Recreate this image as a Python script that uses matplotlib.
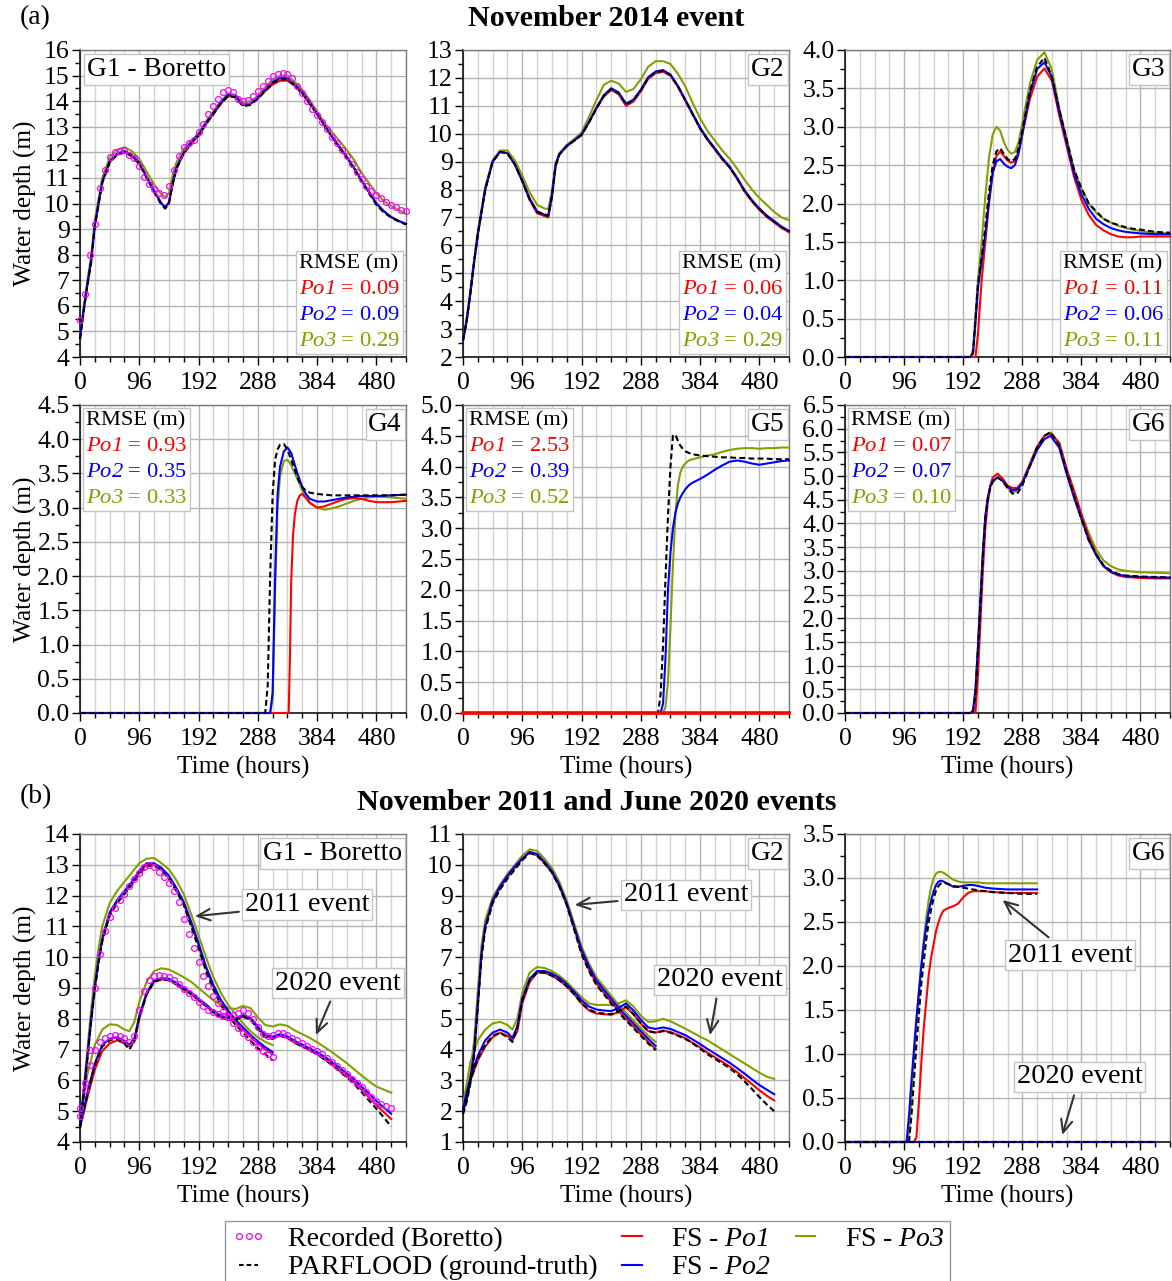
import matplotlib
matplotlib.use("Agg")
import matplotlib.pyplot as plt
from matplotlib.lines import Line2D
from matplotlib.ticker import MultipleLocator, FormatStrFormatter
from matplotlib.offsetbox import TextArea, VPacker, AnchoredOffsetbox

plt.rcParams["font.family"] = ["Liberation Serif", "DejaVu Serif"]
# math mode is only used for the italic run names (Po1, Po2, Po3)
plt.rcParams["mathtext.fontset"] = "custom"
plt.rcParams["mathtext.rm"] = "Liberation Serif:italic"
plt.rcParams["mathtext.it"] = "Liberation Serif:italic"

# ---------------------------------------------------------------- data
# November 2014 event ------------------------------------------------
g1_14_t = [0, 6, 12, 18, 24, 36, 48, 60, 72, 84, 96, 108, 120, 132, 138, 144, 150, 156,
           168, 180, 192, 204, 216, 228, 240, 252, 264, 276, 288, 300, 312, 324, 336, 348,
           360, 372, 384, 396, 408, 420, 432, 444, 456, 468, 480, 492, 504, 516, 528]
g1_14_pf = [4.7, 5.8, 6.8, 7.7, 9.1, 10.8, 11.6, 11.9, 12.0, 11.85, 11.55, 11.0, 10.45, 9.95, 9.8,
            10.0, 10.75, 11.35, 11.95, 12.35, 12.65, 13.1, 13.5, 13.9, 14.2, 14.15, 13.8, 13.85,
            14.1, 14.4, 14.7, 14.85, 14.85, 14.6, 14.3, 13.9, 13.5, 13.05, 12.6, 12.2, 11.8, 11.35,
            10.85, 10.4, 9.95, 9.65, 9.45, 9.3, 9.18]
g1_14_po1 = [4.75, 5.85, 6.85, 7.75, 9.15, 10.82, 11.62, 11.9, 12.0, 11.85, 11.55, 11.02, 10.48, 10.0,
             9.85, 10.0, 10.75, 11.35, 11.95, 12.35, 12.65, 13.1, 13.5, 13.9, 14.2, 14.15, 13.85,
             13.9, 14.1, 14.4, 14.65, 14.8, 14.8, 14.6, 14.3, 13.9, 13.5, 13.05, 12.62, 12.22, 11.82,
             11.38, 10.9, 10.45, 10.0, 9.7, 9.47, 9.32, 9.2]
g1_14_po2 = [4.75, 5.85, 6.85, 7.75, 9.15, 10.85, 11.65, 11.95, 12.05, 11.9, 11.6, 11.05, 10.5, 10.0,
             9.85, 10.05, 10.8, 11.4, 12.0, 12.4, 12.7, 13.15, 13.55, 13.95, 14.25, 14.2, 13.85,
             13.9, 14.15, 14.45, 14.75, 14.9, 14.9, 14.65, 14.35, 13.95, 13.5, 13.05, 12.62, 12.22,
             11.82, 11.38, 10.9, 10.45, 10.0, 9.7, 9.47, 9.32, 9.2]
g1_14_po3 = [4.8, 5.95, 7.0, 7.95, 9.35, 11.0, 11.8, 12.1, 12.2, 12.05, 11.75, 11.25, 10.75, 10.35,
             10.25, 10.4, 11.1, 11.6, 12.15, 12.45, 12.75, 13.2, 13.6, 14.0, 14.3, 14.25, 13.95,
             14.0, 14.2, 14.55, 14.85, 15.0, 15.0, 14.75, 14.45, 14.05, 13.6, 13.15, 12.8, 12.45,
             12.1, 11.7, 11.2, 10.8, 10.4, 10.1, 9.9, 9.75, 9.6]
g1_14_rec_t = list(range(0, 529, 8))
g1_14_rec = [5.45, 6.45, 8.0, 9.2, 10.6, 11.3, 11.8, 12.0, 12.07, 12.1,
             11.9, 11.77, 11.45, 11.05, 10.75, 10.55, 10.42, 10.35, 10.7, 11.3,
             11.85, 12.2, 12.35, 12.5, 12.8, 13.1, 13.5, 13.8, 14.1, 14.35,
             14.45, 14.35, 14.1, 14.0, 14.05, 14.2, 14.4, 14.6, 14.8, 15.0,
             15.05, 15.1, 15.05, 14.9, 14.6, 14.3, 14.0, 13.7, 13.45, 13.2,
             12.9, 12.6, 12.35, 12.1, 11.85, 11.55, 11.25, 10.95, 10.7, 10.5,
             10.35, 10.2, 10.05, 9.95, 9.85, 9.75, 9.72]

g2_14_t = g1_14_t
g2_14_pf = [2.6, 3.3, 4.3, 5.4, 6.4, 8.0, 9.0, 9.35, 9.3, 8.9, 8.3, 7.65, 7.2, 7.1, 7.05, 7.75, 8.85,
            9.25, 9.55, 9.75, 9.95, 10.4, 10.9, 11.35, 11.6, 11.45, 11.05, 11.2, 11.55, 12.0, 12.2,
            12.25, 12.1, 11.7, 11.2, 10.7, 10.2, 9.8, 9.45, 9.1, 8.8, 8.4, 7.95, 7.6, 7.3, 7.05,
            6.85, 6.65, 6.5]
g2_14_po1 = [2.6, 3.3, 4.3, 5.4, 6.4, 8.0, 9.0, 9.35, 9.3, 8.9, 8.3, 7.62, 7.15, 7.05, 7.0, 7.7, 8.85,
             9.25, 9.55, 9.75, 9.95, 10.4, 10.9, 11.33, 11.57, 11.42, 11.0, 11.15, 11.52, 11.97,
             12.17, 12.22, 12.08, 11.68, 11.18, 10.68, 10.18, 9.78, 9.43, 9.08, 8.78, 8.38, 7.93,
             7.57, 7.27, 7.02, 6.82, 6.62, 6.47]
g2_14_po2 = [2.6, 3.3, 4.3, 5.4, 6.4, 8.0, 9.0, 9.35, 9.3, 8.9, 8.32, 7.68, 7.22, 7.1, 7.08, 7.78,
             8.88, 9.27, 9.57, 9.77, 9.97, 10.43, 10.93, 11.38, 11.63, 11.48, 11.08, 11.22, 11.58,
             12.03, 12.23, 12.28, 12.12, 11.72, 11.22, 10.72, 10.22, 9.82, 9.47, 9.12, 8.82, 8.42,
             7.97, 7.62, 7.32, 7.07, 6.87, 6.67, 6.52]
g2_14_po3 = [2.6, 3.4, 4.4, 5.5, 6.5, 8.1, 9.05, 9.4, 9.4, 9.05, 8.5, 7.9, 7.45, 7.32, 7.3, 7.95, 8.95,
             9.3, 9.6, 9.8, 10.05, 10.6, 11.2, 11.75, 11.9, 11.8, 11.5, 11.6, 11.95, 12.4, 12.6,
             12.6, 12.5, 12.15, 11.7, 11.1, 10.55, 10.1, 9.75, 9.4, 9.1, 8.75, 8.35, 8.0, 7.7,
             7.45, 7.2, 7.0, 6.9]

g3_14_t = [0, 96, 192, 204, 208, 212, 216, 222, 228, 234, 240, 246, 252, 258, 264, 270, 276, 282,
           288, 300, 312, 324, 336, 348, 360, 372, 384, 396, 408, 420, 432, 444, 456, 468, 480,
           504, 528]
g3_14_pf = [0, 0, 0, 0, 0.05, 0.5, 0.95, 1.3, 1.7, 2.15, 2.5, 2.68, 2.72, 2.65, 2.58, 2.55, 2.58,
            2.72, 2.95, 3.45, 3.78, 3.9, 3.65, 3.22, 2.83, 2.44, 2.2, 2.0, 1.9, 1.8, 1.75, 1.72,
            1.69, 1.67, 1.66, 1.63, 1.62]
g3_14_po1 = [0, 0, 0, 0, 0, 0, 0.3, 1.0, 1.5, 2.0, 2.4, 2.62, 2.68, 2.62, 2.56, 2.53, 2.55, 2.68,
             2.9, 3.35, 3.65, 3.76, 3.6, 3.15, 2.75, 2.35, 2.05, 1.85, 1.72, 1.65, 1.6, 1.57, 1.56,
             1.56, 1.57, 1.57, 1.57]
g3_14_po2 = [0, 0, 0, 0, 0.05, 0.45, 0.9, 1.25, 1.6, 2.05, 2.4, 2.55, 2.58, 2.52, 2.48, 2.46, 2.5,
             2.65, 2.9, 3.42, 3.75, 3.84, 3.65, 3.2, 2.8, 2.4, 2.12, 1.93, 1.8, 1.73, 1.68, 1.65,
             1.63, 1.62, 1.61, 1.6, 1.6]
g3_14_po3 = [0, 0, 0, 0, 0.1, 0.55, 1.0, 1.5, 2.1, 2.6, 2.9, 3.0, 2.95, 2.8, 2.7, 2.65, 2.67, 2.8,
             3.05, 3.55, 3.87, 3.97, 3.75, 3.25, 2.85, 2.45, 2.2, 2.0, 1.88, 1.8, 1.75, 1.71, 1.68,
             1.66, 1.64, 1.62, 1.61]

g4_14_t = [0, 96, 192, 288, 300, 304, 308, 312, 316, 320, 324, 330, 336, 342, 348, 354, 360, 366,
           372, 384, 396, 408, 420, 432, 444, 456, 468, 480, 504, 528]
g4_14_pf = [0, 0, 0, 0, 0, 0.4, 2.0, 3.2, 3.7, 3.85, 3.92, 3.93, 3.85, 3.7, 3.55, 3.4, 3.3, 3.25,
            3.22, 3.2, 3.19, 3.18, 3.18, 3.18, 3.18, 3.18, 3.18, 3.18, 3.18, 3.19]
g4_14_po2 = [0, 0, 0, 0, 0, 0, 0, 0.3, 2.0, 3.2, 3.6, 3.82, 3.88, 3.8, 3.62, 3.45, 3.3, 3.2, 3.13,
             3.09, 3.09, 3.11, 3.13, 3.15, 3.16, 3.17, 3.17, 3.17, 3.18, 3.19]
g4_14_po3 = [0, 0, 0, 0, 0, 0, 0, 0.2, 1.8, 3.0, 3.45, 3.68, 3.7, 3.62, 3.5, 3.38, 3.25, 3.15, 3.08,
             3.0, 2.97, 2.99, 3.02, 3.06, 3.1, 3.13, 3.15, 3.16, 3.15, 3.13]
g4_14_po1_t = [0, 338, 340, 342, 345, 348, 352, 356, 360, 366, 372, 384, 396, 408, 420, 432, 444,
               456, 468, 480, 492, 504, 516, 528]
g4_14_po1 = [0, 0, 0.8, 1.9, 2.6, 2.9, 3.1, 3.18, 3.2, 3.14, 3.07, 3.0, 3.02, 3.06, 3.1, 3.13, 3.14,
             3.13, 3.1, 3.08, 3.08, 3.08, 3.09, 3.1]

g5_14_t = [0, 96, 192, 288, 316, 320, 324, 328, 332, 336, 340, 344, 348, 352, 356, 360, 366, 372,
           384, 396, 408, 420, 432, 444, 456, 468, 480, 492, 504, 516, 528]
g5_14_pf = [0, 0, 0, 0, 0, 0.3, 1.1, 2.2, 3.2, 4.0, 4.5, 4.52, 4.42, 4.34, 4.29, 4.25, 4.22, 4.2,
            4.18, 4.17, 4.16, 4.15, 4.15, 4.14, 4.14, 4.13, 4.13, 4.13, 4.12, 4.12, 4.12]
g5_14_po2 = [0, 0, 0, 0, 0, 0, 0.15, 0.9, 2.0, 2.6, 3.0, 3.25, 3.4, 3.5, 3.57, 3.63, 3.7, 3.74, 3.8,
             3.87, 3.95, 4.02, 4.08, 4.1, 4.08, 4.05, 4.03, 4.05, 4.07, 4.09, 4.1]
g5_14_po3 = [0, 0, 0, 0, 0, 0, 0, 0.1, 0.5, 1.4, 2.4, 3.2, 3.7, 3.9, 4.0, 4.05, 4.1, 4.12, 4.15,
             4.18, 4.2, 4.24, 4.27, 4.29, 4.3, 4.3, 4.29, 4.3, 4.3, 4.31, 4.31]
g5_14_po1_t = [0, 528]
g5_14_po1 = [0, 0]

g6_14_t = [0, 96, 192, 204, 208, 212, 216, 220, 224, 228, 232, 236, 240, 248, 256, 264, 272, 280,
           288, 300, 312, 324, 334, 348, 360, 372, 384, 396, 408, 420, 432, 444, 456, 480, 504, 528]
g6_14_pf = [0, 0, 0, 0, 0.0, 0.4, 1.3, 2.3, 3.3, 4.1, 4.5, 4.75, 4.88, 4.97, 4.9, 4.75, 4.63, 4.63,
            4.8, 5.2, 5.6, 5.85, 5.93, 5.65, 5.1, 4.6, 4.1, 3.65, 3.35, 3.12, 3.0, 2.93, 2.9,
            2.88, 2.87, 2.86]
g6_14_po1 = [0, 0, 0, 0, 0, 0, 0.8, 1.9, 3.0, 3.9, 4.45, 4.8, 4.97, 5.05, 4.95, 4.8, 4.75, 4.75,
             4.88, 5.25, 5.62, 5.85, 5.9, 5.7, 5.15, 4.7, 4.2, 3.72, 3.35, 3.1, 2.97, 2.9, 2.87,
             2.85, 2.84, 2.84]
g6_14_po2 = [0, 0, 0, 0, 0.05, 0.5, 1.4, 2.4, 3.4, 4.15, 4.55, 4.78, 4.9, 4.97, 4.9, 4.78, 4.7,
             4.72, 4.85, 5.2, 5.55, 5.78, 5.85, 5.6, 5.05, 4.55, 4.1, 3.65, 3.33, 3.1, 2.98, 2.92,
             2.89, 2.87, 2.86, 2.86]
g6_14_po3 = [0, 0, 0, 0, 0.05, 0.5, 1.4, 2.4, 3.4, 4.15, 4.55, 4.78, 4.9, 4.97, 4.9, 4.75, 4.66,
             4.68, 4.85, 5.22, 5.6, 5.85, 5.92, 5.7, 5.15, 4.65, 4.2, 3.8, 3.45, 3.22, 3.1, 3.03,
             3.0, 2.97, 2.96, 2.95]

# RMSE (m) of the FS runs against PARFLOOD, gauges G1..G6 (2014 event)
rmse_po1 = [0.09, 0.06, 0.11, 0.93, 2.53, 0.07]
rmse_po2 = [0.09, 0.04, 0.06, 0.35, 0.39, 0.07]
rmse_po3 = [0.29, 0.29, 0.11, 0.33, 0.52, 0.10]

# November 2011 and June 2020 events ----------------------------------
ev11_t = [0, 6, 12, 18, 24, 30, 36, 48, 60, 72, 84, 96, 108, 120, 132, 144, 156, 168, 180, 192,
          204, 216, 228, 240, 252, 264, 276, 288, 300, 312]
ev20_t = [0, 6, 12, 24, 36, 48, 60, 72, 80, 88, 96, 108, 120, 132, 144, 156, 168, 180, 192, 204,
          216, 228, 240, 252, 264, 276, 288, 300, 312, 324, 336, 348, 360, 372, 384, 396, 408,
          420, 432, 444, 456, 468, 480, 492, 504]

g1_11_pf = [4.5, 5.5, 6.7, 7.9, 8.95, 9.8, 10.5, 11.35, 11.75, 12.05, 12.35, 12.7, 12.95, 12.98,
            12.8, 12.55, 12.15, 11.7, 11.0, 10.3, 9.55, 8.95, 8.45, 8.1, 7.8, 7.55, 7.3, 7.05,
            6.85, 6.65]
g1_11_po1 = [4.55, 5.55, 6.75, 7.95, 9.0, 9.85, 10.55, 11.4, 11.8, 12.1, 12.4, 12.75, 13.0, 13.0,
             12.85, 12.6, 12.2, 11.75, 11.1, 10.4, 9.65, 9.05, 8.55, 8.2, 7.9, 7.65, 7.42, 7.2,
             7.0, 6.85]
g1_11_po2 = [4.55, 5.6, 6.8, 8.0, 9.05, 9.9, 10.6, 11.45, 11.85, 12.15, 12.45, 12.8, 13.05, 13.05,
             12.9, 12.65, 12.25, 11.8, 11.15, 10.45, 9.7, 9.1, 8.62, 8.27, 7.97, 7.72, 7.48, 7.27,
             7.08, 6.92]
g1_11_po3 = [4.6, 5.7, 7.0, 8.3, 9.4, 10.3, 11.0, 11.75, 12.15, 12.45, 12.75, 13.05, 13.2, 13.22,
             13.05, 12.85, 12.5, 12.05, 11.4, 10.7, 10.0, 9.35, 8.85, 8.45, 8.15, 7.85, 7.6, 7.4,
             7.25, 7.15]
g1_11_rec_t = list(range(0, 313, 8))
g1_11_rec = [4.85, 5.7, 7.0, 9.0, 10.1, 10.85, 11.3, 11.6, 11.85, 12.05,
             12.3, 12.55, 12.75, 12.92, 12.98, 12.92, 12.78, 12.6, 12.4, 12.15,
             11.8, 11.25, 10.75, 10.3, 9.85, 9.4, 9.05, 8.75, 8.5, 8.25,
             8.05, 7.85, 7.7, 7.55, 7.4, 7.25, 7.1, 6.95, 6.85, 6.75]

g1_20_pf = [4.45, 5.0, 5.55, 6.5, 7.1, 7.3, 7.35, 7.2, 7.0, 7.3, 8.05, 8.8, 9.2, 9.28, 9.25, 9.12,
            8.95, 8.8, 8.6, 8.42, 8.2, 8.05, 7.97, 7.97, 8.07, 7.98, 7.68, 7.4, 7.35, 7.45, 7.38,
            7.22, 7.1, 6.98, 6.85, 6.68, 6.5, 6.3, 6.1, 5.88, 5.62, 5.35, 5.08, 4.8, 4.5]
g1_20_po1 = [4.5, 4.95, 5.45, 6.35, 6.95, 7.2, 7.3, 7.2, 7.1, 7.25, 8.0, 8.8, 9.2, 9.28, 9.25, 9.12,
             8.95, 8.8, 8.6, 8.42, 8.2, 8.05, 7.97, 7.97, 8.07, 7.98, 7.7, 7.42, 7.37, 7.45, 7.38,
             7.22, 7.1, 6.98, 6.85, 6.7, 6.52, 6.33, 6.14, 5.93, 5.7, 5.45, 5.2, 4.97, 4.75]
g1_20_po2 = [4.5, 5.05, 5.6, 6.55, 7.15, 7.35, 7.4, 7.28, 7.15, 7.35, 8.1, 8.85, 9.25, 9.32, 9.3,
             9.17, 9.0, 8.85, 8.65, 8.47, 8.25, 8.1, 8.02, 8.02, 8.12, 8.03, 7.75, 7.47, 7.42, 7.5,
             7.43, 7.28, 7.16, 7.04, 6.92, 6.77, 6.6, 6.42, 6.23, 6.03, 5.8, 5.57, 5.33, 5.12, 4.92]
g1_20_po3 = [4.65, 5.5, 6.2, 7.15, 7.65, 7.82, 7.8, 7.65, 7.6, 7.9, 8.55, 9.2, 9.55, 9.64, 9.6,
             9.48, 9.35, 9.2, 9.0, 8.8, 8.6, 8.45, 8.35, 8.32, 8.42, 8.35, 8.05, 7.8, 7.75, 7.82,
             7.77, 7.62, 7.5, 7.38, 7.24, 7.08, 6.92, 6.74, 6.56, 6.36, 6.16, 5.97, 5.8, 5.7, 5.6]
g1_20_rec_t = list(range(0, 505, 8))
g1_20_rec = [5.1, 5.9, 6.5, 7.0, 7.25, 7.38, 7.45, 7.48,
             7.45, 7.38, 7.25, 7.45, 8.3, 8.9, 9.25, 9.4,
             9.42, 9.4, 9.35, 9.25, 9.12, 8.98, 8.85, 8.7,
             8.55, 8.42, 8.3, 8.22, 8.15, 8.1, 8.1, 8.12,
             8.18, 8.27, 8.2, 8.0, 7.75, 7.52, 7.45, 7.48,
             7.55, 7.55, 7.47, 7.38, 7.3, 7.22, 7.13, 7.03,
             6.95, 6.85, 6.73, 6.6, 6.47, 6.34, 6.2, 6.06,
             5.92, 5.77, 5.62, 5.47, 5.34, 5.24, 5.16, 5.1]

g2_11_pf = [1.9, 2.3, 2.9, 3.8, 5.4, 7.0, 7.9, 8.75, 9.2, 9.55, 9.85, 10.15, 10.38, 10.3, 10.05,
            9.75, 9.3, 8.7, 7.9, 7.1, 6.55, 6.1, 5.8, 5.5, 5.2, 4.95, 4.7, 4.45, 4.2, 3.98]
g2_11_po1 = [2.0, 2.4, 3.0, 3.9, 5.5, 7.1, 8.0, 8.8, 9.25, 9.6, 9.9, 10.2, 10.4, 10.3, 10.05, 9.75,
             9.3, 8.7, 7.95, 7.15, 6.6, 6.15, 5.85, 5.55, 5.25, 5.0, 4.75, 4.5, 4.25, 4.02]
g2_11_po2 = [2.0, 2.4, 3.0, 3.9, 5.5, 7.1, 8.0, 8.85, 9.3, 9.65, 9.95, 10.2, 10.42, 10.35, 10.1,
             9.8, 9.35, 8.75, 8.0, 7.25, 6.7, 6.25, 5.95, 5.65, 5.35, 5.1, 4.85, 4.6, 4.35, 4.12]
g2_11_po3 = [2.1, 2.6, 3.3, 4.3, 5.9, 7.4, 8.2, 8.95, 9.35, 9.7, 10.0, 10.3, 10.5, 10.45, 10.2,
             9.9, 9.45, 8.85, 8.1, 7.35, 6.8, 6.35, 6.05, 5.75, 5.45, 5.2, 4.95, 4.7, 4.45, 4.25]

g2_20_pf = [2.0, 2.5, 3.0, 3.7, 4.15, 4.45, 4.55, 4.4, 4.25, 4.7, 5.6, 6.25, 6.5, 6.5, 6.4, 6.25,
            6.05, 5.8, 5.5, 5.3, 5.2, 5.17, 5.15, 5.25, 5.4, 5.15, 4.85, 4.6, 4.55, 4.6, 4.55,
            4.45, 4.35, 4.2, 4.03, 3.85, 3.7, 3.55, 3.4, 3.2, 2.97, 2.72, 2.46, 2.22, 2.0]
g2_20_po1 = [2.0, 2.5, 3.0, 3.65, 4.1, 4.4, 4.55, 4.45, 4.3, 4.6, 5.5, 6.2, 6.5, 6.5, 6.4, 6.25,
             6.05, 5.8, 5.5, 5.27, 5.17, 5.15, 5.13, 5.22, 5.38, 5.15, 4.85, 4.6, 4.55, 4.62, 4.57,
             4.47, 4.37, 4.22, 4.07, 3.9, 3.75, 3.6, 3.45, 3.27, 3.07, 2.88, 2.68, 2.5, 2.35]
g2_20_po2 = [2.1, 2.6, 3.1, 3.8, 4.3, 4.55, 4.65, 4.55, 4.38, 4.75, 5.65, 6.3, 6.55, 6.55, 6.47,
             6.33, 6.13, 5.88, 5.6, 5.4, 5.3, 5.27, 5.25, 5.35, 5.5, 5.27, 4.97, 4.72, 4.67, 4.72,
             4.67, 4.57, 4.47, 4.33, 4.18, 4.02, 3.87, 3.72, 3.57, 3.4, 3.22, 3.03, 2.85, 2.7, 2.55]
g2_20_po3 = [2.2, 2.9, 3.6, 4.3, 4.65, 4.85, 4.9, 4.8, 4.65, 5.0, 5.85, 6.5, 6.68, 6.65, 6.55, 6.4,
             6.2, 5.95, 5.7, 5.5, 5.45, 5.45, 5.45, 5.5, 5.6, 5.4, 5.1, 4.9, 4.92, 5.0, 4.92, 4.8,
             4.68, 4.55, 4.42, 4.3, 4.15, 4.0, 3.85, 3.7, 3.55, 3.4, 3.25, 3.12, 3.05]

g6_11_t = [0, 96, 100, 104, 108, 112, 116, 120, 124, 128, 132, 136, 140, 144, 148, 152, 156, 160,
           168, 176, 184, 192, 200, 208, 216, 228, 240, 264, 288, 312]
g6_11_pf = [0, 0, 0, 0.0, 0.3, 0.7, 1.1, 1.45, 1.8, 2.05, 2.3, 2.5, 2.65, 2.77, 2.86, 2.91, 2.94,
            2.95, 2.93, 2.91, 2.9, 2.89, 2.88, 2.87, 2.86, 2.85, 2.84, 2.83, 2.82, 2.82]
g6_11_po1 = [0, 0, 0, 0, 0, 0, 0.05, 0.45, 0.9, 1.3, 1.6, 1.9, 2.1, 2.25, 2.4, 2.5, 2.58, 2.63,
             2.66, 2.68, 2.71, 2.78, 2.83, 2.85, 2.85, 2.85, 2.84, 2.83, 2.83, 2.83]
g6_11_po2 = [0, 0, 0.0, 0.3, 0.7, 1.05, 1.4, 1.7, 2.0, 2.25, 2.45, 2.62, 2.75, 2.85, 2.92, 2.96,
             2.97, 2.96, 2.93, 2.9, 2.9, 2.91, 2.92, 2.92, 2.91, 2.89, 2.88, 2.87, 2.87, 2.87]
g6_11_po3 = [0, 0, 0.0, 0.1, 0.5, 0.95, 1.35, 1.7, 2.0, 2.3, 2.55, 2.75, 2.9, 3.0, 3.05, 3.07,
             3.07, 3.06, 3.02, 2.98, 2.96, 2.95, 2.95, 2.95, 2.95, 2.94, 2.94, 2.94, 2.94, 2.94]
g6_20_t = [0, 504]
g6_20_depth = [0.0, 0.0]

# ---------------------------------------------------------------- style
RED, BLUE, OLIVE, MAGENTA = "#ff0000", "#0000ff", "#84a000", "#ff00ff"
LW = 1.5
DASH = (2.8, 1.6)
FIG_W, FIG_H = 1172, 1281
TICK_FS, LABEL_FS = 18.5, 18.3

fig = plt.figure(figsize=(FIG_W / 100, FIG_H / 100), dpi=100)


def make_axes(left, top, right, bottom):
    return fig.add_axes([left / FIG_W, 1 - bottom / FIG_H,
                         (right - left) / FIG_W, (bottom - top) / FIG_H])


def style_axes(ax, ylo, yhi, ystep, fmt):
    ax.set_xlim(0, 528)
    ax.set_ylim(ylo, yhi)
    ax.xaxis.set_major_locator(MultipleLocator(96))
    ax.xaxis.set_minor_locator(MultipleLocator(24))
    ax.yaxis.set_major_locator(MultipleLocator(ystep))
    ax.yaxis.set_minor_locator(MultipleLocator(ystep / 2))
    ax.yaxis.set_major_formatter(FormatStrFormatter(fmt))
    ax.grid(which="major", axis="both", color="#b4b4b4", lw=1.0)
    ax.grid(which="minor", axis="x", color="#d2d2d2", lw=1.0)
    ax.set_axisbelow(True)
    ax.tick_params(which="both", direction="out", top=False, right=False,
                   labelsize=TICK_FS)
    ax.tick_params(axis="x", which="both", pad=5)
    ax.tick_params(axis="y", which="both", pad=1.5)
    ax.tick_params(which="major", length=6, width=1)
    ax.tick_params(which="minor", length=3.5, width=1)
    for side in ("left", "bottom"):
        ax.spines[side].set_color("black")
        ax.spines[side].set_linewidth(1.1)
    for side in ("top", "right"):
        ax.spines[side].set_color("#7a7a7a")
        ax.spines[side].set_linewidth(1.0)


def draw_runs(ax, t, pf, po1, po2, po3, t_po1=None):
    ax.plot(t, po3, color=OLIVE, lw=LW, clip_on=False, zorder=3)
    ax.plot(t if t_po1 is None else t_po1, po1, color=RED, lw=LW, clip_on=False, zorder=4)
    ax.plot(t, po2, color=BLUE, lw=LW, clip_on=False, zorder=5)
    ax.plot(t, pf, color="black", lw=LW, dashes=DASH, clip_on=False, zorder=6)


def draw_recorded(ax, t, h):
    ax.plot(t, h, ls="none", marker="o", ms=4.2, mfc="none", mec=MAGENTA, mew=0.9,
            clip_on=False, zorder=7)


def gauge_label(ax, text, left=False):
    x, ha = (0.022, "left") if left else (0.987, "right")
    ax.text(x, 0.978, text, transform=ax.transAxes, ha=ha, va="top", fontsize=19.8,
            zorder=10, bbox=dict(boxstyle="square,pad=0.1", fc="white", ec="#c4c4c4", lw=1))


def rmse_box(ax, i, loc):
    rows = [TextArea("RMSE (m)", textprops=dict(color="black", fontsize=16.2))]
    for name, vals, col in (("Po1", rmse_po1, RED), ("Po2", rmse_po2, BLUE),
                            ("Po3", rmse_po3, OLIVE)):
        rows.append(TextArea(rf"${name}$ = {vals[i]:.2f}",
                             textprops=dict(color=col, fontsize=16.2)))
    pack = VPacker(children=rows, align="left", pad=0, sep=5)
    box = AnchoredOffsetbox(loc=loc, child=pack, pad=0.22, borderpad=0.2, frameon=True)
    box.patch.set_boxstyle("square,pad=0")
    box.patch.set_edgecolor("#c4c4c4")
    box.patch.set_facecolor("white")
    box.set_zorder(10)
    ax.add_artist(box)


def event_note(ax, text, xy, xytext):
    ax.annotate(text, xy=xy, xytext=xytext, fontsize=20.5, ha="center", va="center",
                zorder=11,
                bbox=dict(boxstyle="square,pad=0.1", fc="white", ec="#c4c4c4", lw=1),
                arrowprops=dict(arrowstyle="->,head_length=0.45,head_width=0.2",
                                color="#333333", lw=1.5, shrinkA=2, shrinkB=0))


cols = [(80, 406), (463, 789), (845, 1170)]
row1, row2, row3 = (50, 357), (405, 713), (834, 1142)

# ---------------------------------------------------------------- (a) 2014
a1 = make_axes(cols[0][0], row1[0], cols[0][1], row1[1])
style_axes(a1, 4, 16, 1, "%d")
draw_runs(a1, g1_14_t, g1_14_pf, g1_14_po1, g1_14_po2, g1_14_po3)
draw_recorded(a1, g1_14_rec_t, g1_14_rec)
gauge_label(a1, "G1 - Boretto", left=True)
rmse_box(a1, 0, "lower right")

a2 = make_axes(cols[1][0], row1[0], cols[1][1], row1[1])
style_axes(a2, 2, 13, 1, "%d")
draw_runs(a2, g2_14_t, g2_14_pf, g2_14_po1, g2_14_po2, g2_14_po3)
gauge_label(a2, "G2")
rmse_box(a2, 1, "lower right")

a3 = make_axes(cols[2][0], row1[0], cols[2][1], row1[1])
style_axes(a3, 0, 4, 0.5, "%.1f")
draw_runs(a3, g3_14_t, g3_14_pf, g3_14_po1, g3_14_po2, g3_14_po3)
gauge_label(a3, "G3")
rmse_box(a3, 2, "lower right")

a4 = make_axes(cols[0][0], row2[0], cols[0][1], row2[1])
style_axes(a4, 0, 4.5, 0.5, "%.1f")
draw_runs(a4, g4_14_t, g4_14_pf, g4_14_po1, g4_14_po2, g4_14_po3, t_po1=g4_14_po1_t)
gauge_label(a4, "G4")
rmse_box(a4, 3, "upper left")

a5 = make_axes(cols[1][0], row2[0], cols[1][1], row2[1])
style_axes(a5, 0, 5, 0.5, "%.1f")
draw_runs(a5, g5_14_t, g5_14_pf, g5_14_po1, g5_14_po2, g5_14_po3, t_po1=g5_14_po1_t)
a5.plot(g5_14_po1_t, g5_14_po1, color=RED, lw=2.6, clip_on=False, zorder=8)
gauge_label(a5, "G5")
rmse_box(a5, 4, "upper left")

a6 = make_axes(cols[2][0], row2[0], cols[2][1], row2[1])
style_axes(a6, 0, 6.5, 0.5, "%.1f")
draw_runs(a6, g6_14_t, g6_14_pf, g6_14_po1, g6_14_po2, g6_14_po3)
gauge_label(a6, "G6")
rmse_box(a6, 5, "upper left")

# ---------------------------------------------------------------- (b) 2011 / 2020
b1 = make_axes(cols[0][0], row3[0], cols[0][1], row3[1])
style_axes(b1, 4, 14, 1, "%d")
draw_runs(b1, ev11_t, g1_11_pf, g1_11_po1, g1_11_po2, g1_11_po3)
draw_runs(b1, ev20_t, g1_20_pf, g1_20_po1, g1_20_po2, g1_20_po3)
draw_recorded(b1, g1_11_rec_t, g1_11_rec)
draw_recorded(b1, g1_20_rec_t, g1_20_rec)
gauge_label(b1, "G1 - Boretto")
event_note(b1, "2011 event", (186, 11.33), (368, 11.7))
event_note(b1, "2020 event", (382, 7.47), (418, 9.16))

b2 = make_axes(cols[1][0], row3[0], cols[1][1], row3[1])
style_axes(b2, 1, 11, 1, "%d")
draw_runs(b2, ev11_t, g2_11_pf, g2_11_po1, g2_11_po2, g2_11_po3)
draw_runs(b2, ev20_t, g2_20_pf, g2_20_po1, g2_20_po2, g2_20_po3)
gauge_label(b2, "G2")
event_note(b2, "2011 event", (181, 8.7), (361, 9.02))
event_note(b2, "2020 event", (400, 4.47), (416, 6.26))

b3 = make_axes(cols[2][0], row3[0], cols[2][1], row3[1])
style_axes(b3, 0, 3.5, 0.5, "%.1f")
draw_runs(b3, g6_11_t, g6_11_pf, g6_11_po1, g6_11_po2, g6_11_po3)
draw_runs(b3, g6_20_t, g6_20_depth, g6_20_depth, g6_20_depth, g6_20_depth)
gauge_label(b3, "G6")
event_note(b3, "2011 event", (256, 2.75), (366, 2.125))
event_note(b3, "2020 event", (353, 0.08), (381, 0.74))

for ax in (a1, a4, b1):
    ax.set_ylabel("Water depth (m)", fontsize=LABEL_FS)
    ax.yaxis.set_label_coords(-0.132, 0.5)
for ax in (a4, a5, a6, b1, b2, b3):
    ax.set_xlabel("Time (hours)", fontsize=LABEL_FS, labelpad=4)

# ---------------------------------------------------------------- titles and legend
fig.text(20 / FIG_W, 1 - 18 / FIG_H, "(a)", fontsize=20, va="center", ha="left")
fig.text(606 / FIG_W, 1 - 18 / FIG_H, "November 2014 event", fontsize=21.7,
         fontweight="bold", va="center", ha="center")
fig.text(20 / FIG_W, 1 - 797 / FIG_H, "(b)", fontsize=20, va="center", ha="left")
fig.text(597 / FIG_W, 1 - 803 / FIG_H, "November 2011 and June 2020 events", fontsize=21.7,
         fontweight="bold", va="center", ha="center")

handles = [
    Line2D([], [], ls="none", marker="o", ms=4.2, mfc="none", mec=MAGENTA, mew=0.9),
    Line2D([], [], color="black", lw=LW, dashes=(2.2, 1.5)),
    Line2D([], [], color=RED, lw=LW),
    Line2D([], [], color=BLUE, lw=LW),
    Line2D([], [], color=OLIVE, lw=LW),
]
labels = ["Recorded (Boretto)", "PARFLOOD (ground-truth)", r"FS - $Po1$",
          r"FS - $Po2$", r"FS - $Po3$"]
leg = fig.legend(handles, labels, loc="upper center",
                 bbox_to_anchor=(587.5 / FIG_W, 1 - 1221 / FIG_H),
                 ncol=3, fontsize=20, frameon=True, fancybox=False, numpoints=3,
                 handlelength=1.3, handletextpad=0.75, columnspacing=0.6, labelspacing=0.1,
                 borderpad=0.2, borderaxespad=0)
leg.get_frame().set_edgecolor("#808080")
leg.get_frame().set_linewidth(1.0)

fig.savefig("out.png", dpi=100)
